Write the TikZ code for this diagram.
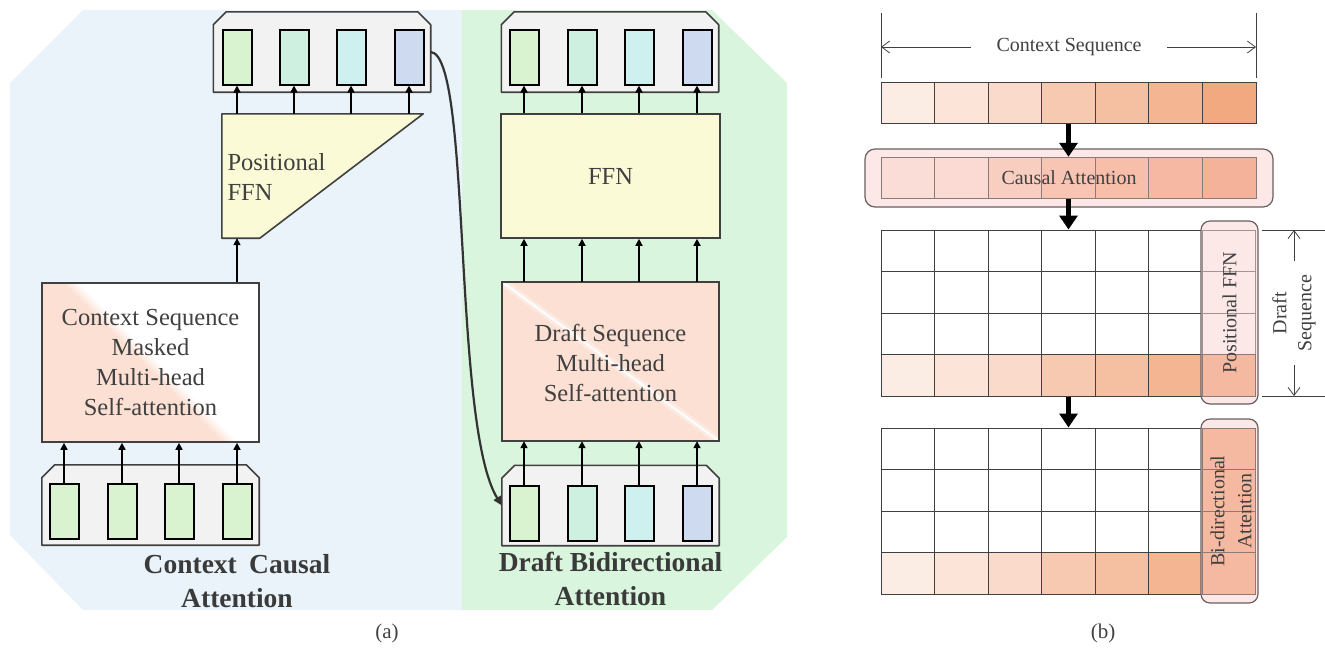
\documentclass[tikz,border=0pt]{standalone}
\usepackage{fontspec}
\setmainfont{Liberation Serif}
\usetikzlibrary{arrows.meta,calc}
\definecolor{bgblue}{RGB}{234,242,250}
\definecolor{bggreen}{RGB}{218,245,221}
\definecolor{contfill}{RGB}{242,242,242}
\definecolor{edge}{RGB}{64,64,64}
\definecolor{txt}{RGB}{64,64,64}
\definecolor{dtxt}{RGB}{58,58,58}
\definecolor{tokA}{RGB}{217,242,208}
\definecolor{tokB}{RGB}{206,240,224}
\definecolor{tokC}{RGB}{206,240,238}
\definecolor{tokD}{RGB}{205,218,240}
\definecolor{ffnfill}{RGB}{250,250,214}
\definecolor{salmon}{RGB}{251,224,211}
\definecolor{r1}{RGB}{251,237,227}
\definecolor{r2}{RGB}{252,228,216}
\definecolor{r3}{RGB}{250,218,202}
\definecolor{r4}{RGB}{247,201,176}
\definecolor{r5}{RGB}{245,191,161}
\definecolor{r6}{RGB}{244,181,147}
\definecolor{r7}{RGB}{242,169,127}
\definecolor{ca1}{RGB}{250,221,214}
\definecolor{ca2}{RGB}{250,218,210}
\definecolor{ca3}{RGB}{248,206,192}
\definecolor{ca4}{RGB}{248,197,180}
\definecolor{ca5}{RGB}{247,190,170}
\definecolor{ca6}{RGB}{246,184,162}
\definecolor{ca7}{RGB}{245,178,154}
\definecolor{cagray}{RGB}{140,122,122}
\definecolor{pinkfill}{RGB}{253,232,232}
\definecolor{pillline}{RGB}{105,95,95}
\definecolor{colsalmon}{RGB}{245,184,160}
\pgfdeclareverticalshading{ctxshade}{100bp}{color(0bp)=(salmon); color(48.5bp)=(salmon); color(51.5bp)=(white); color(100bp)=(white)}
\newcommand\chamferbox[1]{\filldraw[holdline] (#1.south west) -- (#1.south east) -- ($(#1.north east)+(0,13)$) -- ($(#1.north east)+(-13,0)$) -- ($(#1.north west)+(13,0)$) -- ($(#1.north west)+(0,13)$) -- cycle;}
\begin{document}
\begin{tikzpicture}[x=1pt,y=-1pt,
  token/.style={draw=black,line width=2pt,minimum width=29pt,minimum height=55pt,inner sep=0pt},
  holder/.style={minimum width=217pt,minimum height=80pt,inner sep=0pt},
  holdline/.style={draw=edge,fill=contfill,line width=1.6pt,line join=round},
  blockline/.style={draw=edge,line width=1.6pt},
  arr/.style={draw=black,line width=1.6pt,-{Triangle[length=7pt,width=7pt]}},
  lbl/.style={text=txt,font=\fontsize{24.5}{30}\selectfont},
  blbl/.style={text=dtxt,font=\fontsize{27.5}{34}\selectfont\bfseries,align=center},
  slbl/.style={text=txt,font=\fontsize{20}{25}\selectfont},
  cell/.style={draw=edge,line width=1pt,minimum width=53.57pt,minimum height=41.5pt,inner sep=0pt},
  fat/.style={draw=black,line width=5pt,-{Triangle[length=14pt,width=18pt]}},
  dimarr/.style={draw=edge,line width=0.8pt,-{Straight Barb[length=8pt,width=12pt]}},
  dimline/.style={draw=edge,line width=0.8pt},
  pill/.style={draw=pillline,fill=pinkfill,line width=1.2pt,rounded corners=9pt,inner sep=0pt}
]
\useasboundingbox (0,0) rectangle (1325,654);
% panels
\fill[bgblue] (83,10) -- (462,10) -- (462,610) -- (83,610) -- (10,535) -- (10,83) -- cycle;
\fill[bggreen] (462,10) -- (712,10) -- (787,83) -- (787,537) -- (712,610) -- (462,610) -- cycle;

% ---------- left column ----------
\node[holder] (ctl) at (322,52) {};
\chamferbox{ctl}
\foreach \k/\x/\c in {1/237/tokA,2/294/tokB,3/351/tokC,4/409/tokD}
  \node[token,fill=\c] (tl\k) at (\x,57) {};
\node[minimum width=201pt,minimum height=124pt,inner sep=0pt] (pffn) at (322.5,176) {};
\filldraw[blockline,fill=ffnfill,line join=round] (pffn.north west) -- (pffn.north east) -- ($(pffn.south west)+(38,0)$) -- (pffn.south west) -- cycle;
\node[lbl,anchor=west,align=left] (pffntxt) at (224,177) {Positional\\FFN};
\foreach \k in {1,...,4} \draw[arr] (pffn.north -| tl\k) -- (tl\k.south);

\node[blockline,draw,shading=ctxshade,shading angle=-45,minimum width=217pt,minimum height=159pt,inner sep=0pt,lbl,align=center] (cbox) at (150.5,362.5) {Context Sequence\\Masked\\Multi-head\\Self-attention};
\draw[arr] (cbox.north -| tl1) -- (pffn.south -| tl1);

\node[holder] (cbl) at (150.5,505) {};
\chamferbox{cbl}
\foreach \k/\x in {1/64,2/122,3/179,4/237}
  \node[token,fill=tokA] (bl\k) at (\x,511.5) {};
\foreach \k in {1,...,4} \draw[arr] (bl\k.north) -- (cbox.south -| bl\k);
\node[blbl] (lname) at (237,581) {Context\hspace{0.45em}Causal\\Attention};

% ---------- right column ----------
\node[holder] (ctr) at (610,52) {};
\chamferbox{ctr}
\foreach \k/\x/\c in {1/524/tokA,2/582/tokB,3/639/tokC,4/697/tokD}
  \node[token,fill=\c] (tr\k) at (\x,57) {};
\node[blockline,draw,fill=ffnfill,minimum width=219pt,minimum height=124pt,inner sep=0pt,lbl] (ffn) at (610.5,176) {FFN};
\foreach \k in {1,...,4} \draw[arr] (ffn.north -| tr\k) -- (tr\k.south);

\node[fill=salmon,minimum width=217pt,minimum height=159pt,inner sep=0pt] (dbox) at (610.5,361.5) {};
\begin{scope}
  \clip (dbox.north west) rectangle (dbox.south east);
  \draw[white,line width=8pt,opacity=0.3] (dbox.north west) -- (dbox.south east);
  \draw[white,line width=2.5pt,opacity=0.9] (dbox.north west) -- (dbox.south east);
\end{scope}
\draw[blockline] (dbox.north west) rectangle (dbox.south east);
\node[lbl,align=center] (dtxt) at (610.5,363) {Draft Sequence\\Multi-head\\Self-attention};
\foreach \k in {1,...,4} \draw[arr] (dbox.north -| tr\k) -- (ffn.south -| tr\k);

\node[holder] (cbr) at (610.5,505.5) {};
\chamferbox{cbr}
\foreach \k/\x/\c in {1/524/tokA,2/582/tokB,3/639/tokC,4/697/tokD}
  \node[token,fill=\c] (br\k) at (\x,513) {};
\foreach \k in {1,...,4} \draw[arr] (br\k.north) -- (dbox.south -| br\k);
\node[blbl] (rname) at (610.5,579) {Draft Bidirectional\\Attention};

\draw[draw=edge!80!black,line width=2.2pt,-{Triangle[length=9pt,width=8pt]}] (ctl.east) .. controls (472,55) and (452,425) .. (cbr.west);

\node[slbl,font=\fontsize{21}{25}\selectfont] (alabel) at (387,633) {(a)};

% ---------- panel (b) ----------
\coordinate (csa) at (881,13); \coordinate (csb) at (881,78);
\coordinate (csc) at (1256,13); \coordinate (csd) at (1256,78);
\draw[dimline] (csa) -- (csb);
\draw[dimline] (csc) -- (csd);
\node[slbl] (cstxt) at (1069,47) {Context Sequence};
\draw[dimarr] ([xshift=-22pt]cstxt.west) -- (csa |- cstxt);
\draw[dimarr] ([xshift=22pt]cstxt.east) -- (csc |- cstxt);

\foreach \i in {1,...,7}
  \node[cell,fill=r\i] (r-\i) at ({881+53.571*(\i-0.5)},103) {};

\node[pill,minimum width=408pt,minimum height=58pt,rounded corners=10pt] (car) at (1069,178) {};
\foreach \i in {1,...,7}
  \node[cell,draw=cagray,fill=ca\i] (ca-\i) at ({881+53.571*(\i-0.5)},178) {};
\node[slbl] (catxt) at (car) {Causal Attention};

% grid 1
\foreach \j in {1,2,3}
  \foreach \i in {1,...,6}
    \node[cell,fill=white] (ga-\j-\i) at ({881+53.571*(\i-0.5)},{230+41.5*(\j-0.5)}) {};
\foreach \i in {1,...,6}
  \node[cell,fill=r\i] (ga-4-\i) at ({881+53.571*(\i-0.5)},375.25) {};
\node[pill,minimum width=57pt,minimum height=183pt] (pfr) at (1229.5,312.5) {};
\foreach \j in {1,2,3}
  \node[cell,draw=cagray!80,fill=pinkfill] (ga-\j-7) at (1228.8,{230+41.5*(\j-0.5)}) {};
\node[cell,draw=cagray,fill=colsalmon] (ga-4-7) at (1228.8,375.25) {};
\node[slbl,rotate=90] (pfrtxt) at (1229.5,313) {Positional FFN};

% draft sequence dimension
\coordinate (dsa) at (1262,230); \coordinate (dsb) at (1325,230);
\coordinate (dsc) at (1262,396); \coordinate (dsd) at (1325,396);
\draw[dimline] (dsa) -- (dsb);
\draw[dimline] (dsc) -- (dsd);
\node[slbl,rotate=90,align=center] (dstxt) at (1294,313) {Draft\\Sequence};
\draw[dimarr] ([yshift=10pt]dstxt.east) -- (dstxt.east |- dsa);
\draw[dimarr] ([yshift=-10pt]dstxt.west) -- (dstxt.west |- dsc);

% grid 2
\foreach \j in {1,2,3}
  \foreach \i in {1,...,6}
    \node[cell,fill=white] (gb-\j-\i) at ({881+53.571*(\i-0.5)},{428+41.5*(\j-0.5)}) {};
\foreach \i in {1,...,6}
  \node[cell,fill=r\i] (gb-4-\i) at ({881+53.571*(\i-0.5)},573.25) {};
\node[pill,minimum width=57pt,minimum height=184pt] (bir) at (1229.5,511) {};
\foreach \j in {1,...,4}
  \node[cell,draw=cagray,fill=colsalmon] (gb-\j-7) at (1228.8,{428+41.5*(\j-0.5)}) {};
\node[slbl,rotate=90,align=center,font=\fontsize{20}{27}\selectfont] (birtxt) at (1231,511) {Bi-directional\\Attention};

% fat arrows
\draw[fat] (r-4.south) -- (ca-4.north);
\draw[fat] (ca-4.south) -- (ga-1-4.north);
\draw[fat] (ga-4-4.south) -- (gb-1-4.north);

\node[slbl,font=\fontsize{21}{25}\selectfont] (blabel) at (1103,633) {(b)};
\end{tikzpicture}
\end{document}
